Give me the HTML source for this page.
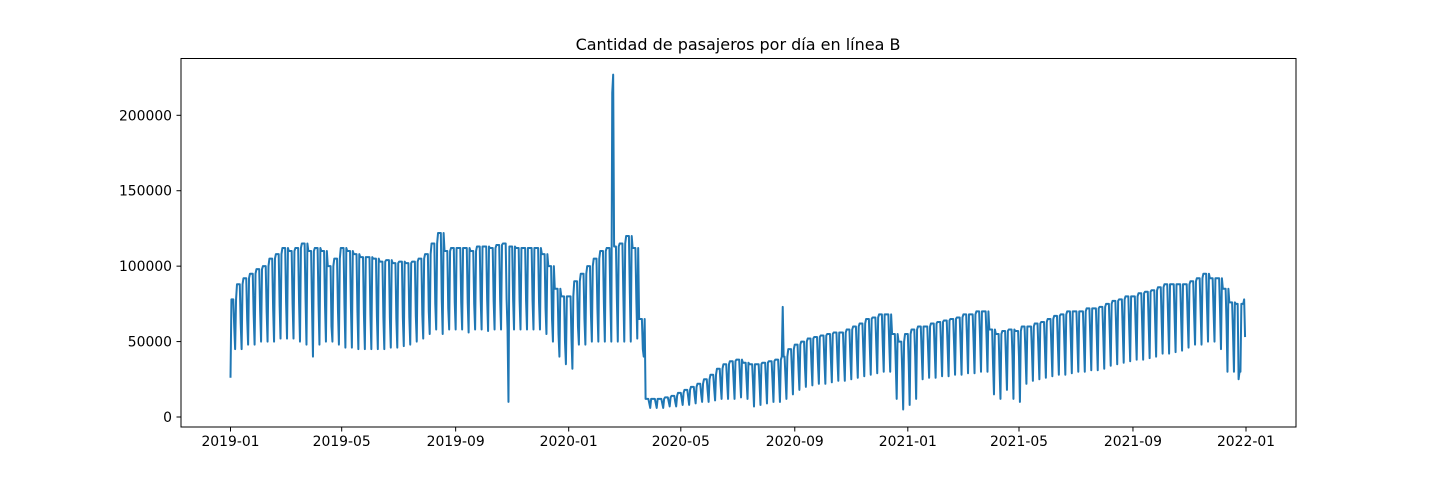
<!DOCTYPE html>
<html><head><meta charset="utf-8"><style>
html,body{margin:0;padding:0;background:#fff;}
svg text{font-family:"DejaVu Sans","Liberation Sans",sans-serif;}
</style></head><body>
<svg id="chart" width="1440" height="480" xmlns="http://www.w3.org/2000/svg">
<rect x="0" y="0" width="1440" height="480" fill="#fff"/>
<text x="738" y="50" font-size="16" text-anchor="middle">Cantidad de pasajeros por día en línea B</text>
<g id="plot"></g>
<rect x="181" y="58.5" width="1115" height="368.5" fill="none" stroke="#000" stroke-width="1"/>
<g id="xaxis"></g>
<g id="yaxis"></g>
</svg>
<script>
// weekly values (thousands), weeks start 2019-01-01 (Tue); weekday, saturday, sunday
const weekdayK = [78,88,92,95,98,100,105,108,112,110,112,115,110,112,110,100,105,112,110,108,106,106,105,103,104,102,103,102,103,105,108,115,122,110,112,112,112,110,113,113,112,114,115,113,112,112,112,112,108,100,85,80,
80,90,95,100,105,110,112,113,115,120,112,65,12,12,12,13,14,16,18,20,22,25,28,32,35,37,38,36,35,35,36,37,38,40,45,48,50,52,53,54,55,56,56,58,60,62,65,66,68,68,55,50,
55,58,60,60,62,63,64,65,66,68,68,70,70,58,55,57,58,57,60,60,62,63,65,67,68,70,70,70,72,72,73,75,77,78,80,80,82,83,84,86,88,88,88,88,90,92,95,92,92,85,76,75];
const saturdayK = [60,62,65,68,70,70,72,74,76,75,76,78,72,75,74,60,70,74,72,70,68,68,67,66,66,65,66,66,67,68,70,75,78,72,76,76,76,75,78,78,77,78,78,78,77,77,77,76,72,65,55,50,
52,60,65,68,72,75,76,78,80,82,78,45,9,9,9,10,10,12,13,14,15,17,19,21,23,24,25,24,22,22,23,24,25,26,30,32,33,35,36,37,38,39,39,40,42,44,46,47,48,48,35,30,
35,40,42,43,44,45,46,47,48,50,50,52,52,35,32,38,40,40,42,43,44,45,46,47,48,50,50,51,52,52,53,55,56,57,58,58,60,61,62,63,64,65,65,66,68,70,72,70,70,62,55,55];
const sundayK = [45,45,48,48,50,50,50,52,52,52,50,48,40,48,50,50,48,46,46,45,45,45,45,45,46,46,47,48,50,52,55,58,55,58,58,58,56,58,58,57,58,58,58,58,58,58,58,58,55,50,40,35,
32,48,48,50,50,50,50,50,50,50,52,40,6,6,6,7,7,8,8,9,10,10,11,12,12,12,13,12,7,8,9,10,10,12,15,18,20,21,22,22,23,24,24,25,26,27,28,29,30,30,12,5,
8,12,25,26,26,27,27,28,28,29,29,30,30,15,12,18,12,10,22,24,25,26,27,28,28,29,30,30,31,31,32,34,35,36,37,38,38,39,40,42,42,43,44,46,48,48,50,50,45,30,30];
// single-day overrides: [dayIndex, value]
const eventDays = [0,412,413,300,596,1088,1089,1094,1095];
const eventVals = [26000,215000,227000,10000,73000,25000,30000,78000,53000];
const yTicks = [0,50000,100000,150000,200000];
const xTickLabels = ["2019-01","2019-05","2019-09","2020-01","2020-05","2020-09","2021-01","2021-05","2021-09","2022-01"];
const xTickDays = [0,120,243,365,486,609,731,851,974,1096];
const NDAYS = 1096;

const ns="http://www.w3.org/2000/svg";
function xPos(d){return 230.5+d*(1246-230.5)/1096;}
function yPos(v){return 417-v*(417-115.3)/200000;}
const vals=[];
for(let d=0;d<NDAYS;d++){
  const w=Math.min(Math.floor(d/7),weekdayK.length-1);
  const dow=d%7;
  let v=weekdayK[w];
  if(dow===4) v=saturdayK[Math.min(w,saturdayK.length-1)];
  if(dow===5) v=sundayK[Math.min(w,sundayK.length-1)];
  vals.push(v*1000);
}
eventDays.forEach((d,i)=>{if(d<NDAYS) vals[d]=eventVals[i];});
let pts=vals.map((v,d)=>xPos(d).toFixed(2)+","+yPos(v).toFixed(2)).join(" ");
const pl=document.createElementNS(ns,"polyline");
pl.setAttribute("points",pts);
pl.setAttribute("fill","none");pl.setAttribute("stroke","#1f77b4");pl.setAttribute("stroke-width","2");pl.setAttribute("stroke-linejoin","round");


document.getElementById("plot").appendChild(pl);

const xa=document.getElementById("xaxis");
xTickDays.forEach((d,i)=>{
  const x=xPos(d);
  const t=document.createElementNS(ns,"line");
  t.setAttribute("x1",x);t.setAttribute("x2",x);t.setAttribute("y1",427);t.setAttribute("y2",431.5);t.setAttribute("stroke","#000");
  
  
  xa.appendChild(t);
  const l=document.createElementNS(ns,"text");
  l.setAttribute("x",x);l.setAttribute("y",446);l.setAttribute("font-size","13.9");l.setAttribute("text-anchor","middle");
  l.textContent=xTickLabels[i];
  
  
  xa.appendChild(l);
});
const ya=document.getElementById("yaxis");
yTicks.forEach(v=>{
  const y=yPos(v);
  const t=document.createElementNS(ns,"line");
  t.setAttribute("x1",176.5);t.setAttribute("x2",181);t.setAttribute("y1",y);t.setAttribute("y2",y);t.setAttribute("stroke","#000");
  
  
  ya.appendChild(t);
  const l=document.createElementNS(ns,"text");
  l.setAttribute("x",172);l.setAttribute("y",y+5);l.setAttribute("font-size","13.9");l.setAttribute("text-anchor","end");
  l.textContent=String(v);
  
  
  ya.appendChild(l);
});
</script>
</body></html>
